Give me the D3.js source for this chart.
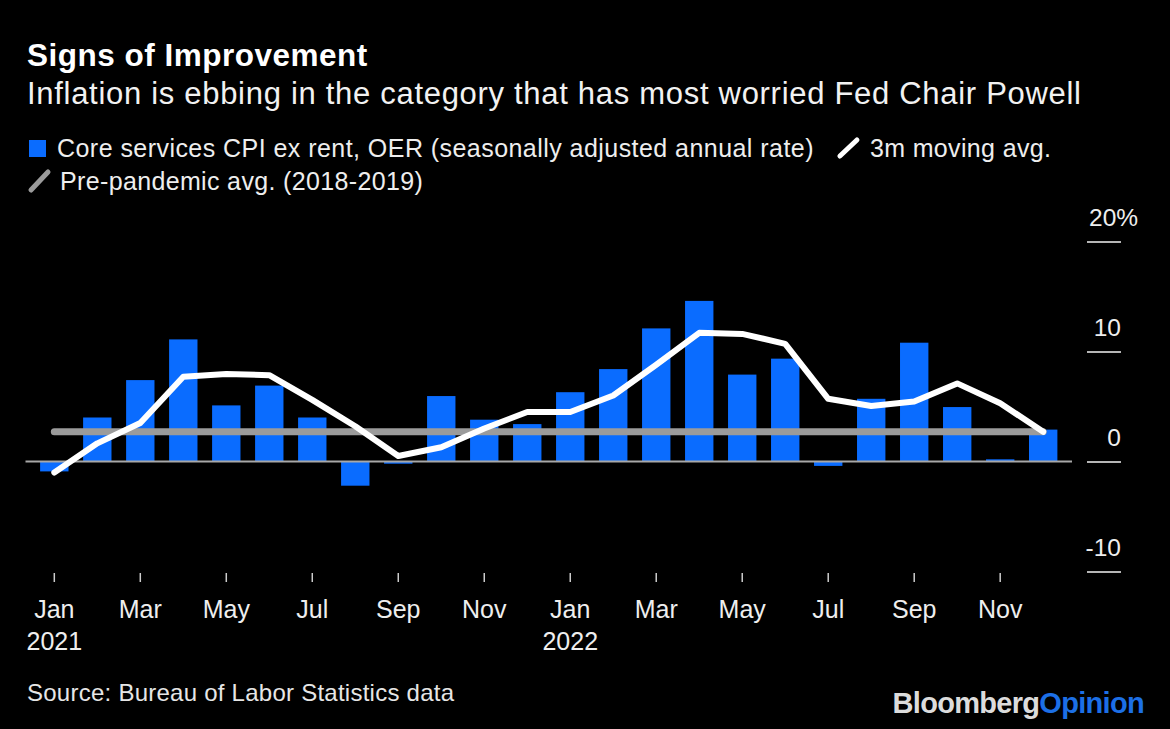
<!DOCTYPE html>
<html>
<head>
<meta charset="utf-8">
<script src="https://cdn.jsdelivr.net/npm/d3@7"></script>
<style>
  html, body { margin: 0; padding: 0; background: #000; }
  svg { display: block; }
  text { font-family: "Liberation Sans", Arial, Helvetica, sans-serif; }
</style>
</head>
<body>
<svg id="chart" width="1170" height="729"></svg>
<script>
// ---- data ----
const months = ["Jan 2021","Feb 2021","Mar 2021","Apr 2021","May 2021","Jun 2021",
                "Jul 2021","Aug 2021","Sep 2021","Oct 2021","Nov 2021","Dec 2021",
                "Jan 2022","Feb 2022","Mar 2022","Apr 2022","May 2022","Jun 2022",
                "Jul 2022","Aug 2022","Sep 2022","Oct 2022","Nov 2022","Dec 2022"];
const coreServices = [-0.9, 4.0, 7.4, 11.1, 5.1, 6.9, 4.0, -2.2, -0.2, 5.95, 3.8, 3.4,
                      6.3, 8.4, 12.1, 14.6, 7.9, 9.35, -0.4, 5.7, 10.8, 4.95, 0.2, 2.9];
const movingAvg = [-1.0, 1.65, 3.5, 7.7, 7.95, 7.85, 5.6, 3.2, 0.5, 1.3, 3.0, 4.5,
                   4.5, 6.0, 8.8, 11.7, 11.6, 10.7, 5.7, 5.05, 5.45, 7.1, 5.3, 2.7];
const prePandemicAvg = 2.7;
const tickMonths = ["Jan 2021","Mar 2021","May 2021","Jul 2021","Sep 2021","Nov 2021",
                    "Jan 2022","Mar 2022","May 2022","Jul 2022","Sep 2022","Nov 2022"];
const tickLabels = ["Jan","Mar","May","Jul","Sep","Nov","Jan","Mar","May","Jul","Sep","Nov"];
const yearMonths = ["Jan 2021","Jan 2022"];
const yearLabels = ["2021","2022"];
const yTicks = [-10, 0, 10, 20];
const yTickLabels = ["-10", "0", "10", "20%"];

const title = "Signs of Improvement";
const subtitle = "Inflation is ebbing in the category that has most worried Fed Chair Powell";
const legendBar = "Core services CPI ex rent, OER (seasonally adjusted annual rate)";
const legendMA = "3m moving avg.";
const legendPre = "Pre-pandemic avg. (2018-2019)";
const source = "Source: Bureau of Labor Statistics data";

// ---- style ----
const BLUE = "#0a6cff";
const GRAY = "#9b9b9b";

const svg = d3.select("#chart");
svg.append("rect").attr("width", 1170).attr("height", 729).attr("fill", "#000");

const x = d3.scaleBand().domain(months).range([25.5, 1072]).padding(0.34);
const y = d3.scaleLinear().domain([-10, 20]).range([571.5, 241.5]);
const cx = m => x(m) + x.bandwidth() / 2;

// ---- header ----
svg.append("text").attr("x", 27).attr("y", 66)
  .attr("fill", "#fff").attr("font-size", 31.5).attr("font-weight", "bold")
  .attr("letter-spacing", 0.5).text(title);
svg.append("text").attr("x", 27).attr("y", 104)
  .attr("fill", "#f2f2f2").attr("font-size", 31)
  .attr("letter-spacing", 0.7).text(subtitle);

// ---- legend ----
svg.append("rect").attr("x", 29).attr("y", 140).attr("width", 17).attr("height", 17).attr("fill", BLUE);
const lt1 = svg.append("text").attr("x", 57).attr("y", 157)
  .attr("fill", "#eee").attr("font-size", 25).attr("letter-spacing", 0.45).text(legendBar);
const end1 = 57 + lt1.node().getComputedTextLength();
const sx = end1 + 26;
svg.append("line").attr("x1", sx).attr("y1", 156).attr("x2", sx + 17).attr("y2", 140)
  .attr("stroke", "#fff").attr("stroke-width", 5).attr("stroke-linecap", "round");
svg.append("text").attr("x", sx + 30).attr("y", 157)
  .attr("fill", "#eee").attr("font-size", 25).attr("letter-spacing", 0.35).text(legendMA);

svg.append("line").attr("x1", 31).attr("y1", 190).attr("x2", 48).attr("y2", 172)
  .attr("stroke", GRAY).attr("stroke-width", 5).attr("stroke-linecap", "round");
svg.append("text").attr("x", 60).attr("y", 190)
  .attr("fill", "#eee").attr("font-size", 25).attr("letter-spacing", 0.35).text(legendPre);

// ---- y axis (right) ----
const yAxis = svg.append("g").attr("transform", "translate(1087,0)")
  .call(d3.axisRight(y).tickValues(yTicks).tickSize(34)
        .tickFormat((d, i) => yTickLabels[i]));
yAxis.select(".domain").remove();
yAxis.selectAll(".tick line").attr("stroke", "#b5b5b5").attr("stroke-width", 2);
yAxis.selectAll(".tick text")
  .attr("x", d => d === 20 ? 2 : 34).attr("y", -16).attr("dy", 0)
  .attr("text-anchor", d => d === 20 ? "start" : "end").attr("fill", "#eee")
  .attr("font-size", 24.5).attr("font-family", null);

// ---- bars ----
svg.append("g").selectAll("rect").data(months).join("rect")
  .attr("x", d => x(d))
  .attr("width", x.bandwidth())
  .attr("y", (d, i) => y(Math.max(0, coreServices[i])))
  .attr("height", (d, i) => Math.abs(y(coreServices[i]) - y(0)))
  .attr("fill", BLUE);

// ---- zero line ----
svg.append("line").attr("x1", x.range()[0]).attr("x2", x.range()[1])
  .attr("y1", y(0)).attr("y2", y(0))
  .attr("stroke", "#a8a8a8").attr("stroke-width", 2);

// ---- pre-pandemic average ----
svg.append("line")
  .attr("x1", cx(months[0])).attr("x2", cx(months[months.length - 1]))
  .attr("y1", y(prePandemicAvg)).attr("y2", y(prePandemicAvg))
  .attr("stroke", GRAY).attr("stroke-width", 7).attr("stroke-linecap", "round");

// ---- moving average ----
const line = d3.line().x((d, i) => cx(months[i])).y(d => y(d));
svg.append("path").datum(movingAvg).attr("d", line)
  .attr("fill", "none").attr("stroke", "#fff").attr("stroke-width", 6)
  .attr("stroke-linejoin", "round").attr("stroke-linecap", "round");

// ---- x axis ----
const xAxis = svg.append("g").attr("transform", "translate(0,573)")
  .call(d3.axisBottom(x).tickValues(tickMonths).tickSize(9)
        .tickFormat((d, i) => tickLabels[i]));
xAxis.select(".domain").remove();
xAxis.selectAll(".tick line").attr("stroke", "#ccc").attr("stroke-width", 1.5);
xAxis.selectAll(".tick text")
  .attr("y", 45).attr("dy", 0).attr("fill", "#eee")
  .attr("font-size", 25).attr("font-family", null);
svg.append("g").selectAll("text").data(yearMonths).join("text")
  .attr("x", d => cx(d)).attr("y", 650).attr("text-anchor", "middle")
  .attr("fill", "#eee").attr("font-size", 25)
  .text((d, i) => yearLabels[i]);

// ---- footer ----
svg.append("text").attr("x", 27).attr("y", 701)
  .attr("fill", "#e6e6e6").attr("font-size", 24).attr("letter-spacing", 0.25).text(source);
const logo = svg.append("text").attr("x", 1144).attr("y", 713).attr("text-anchor", "end")
  .attr("font-size", 29).attr("font-weight", "bold").attr("letter-spacing", -0.7);
logo.append("tspan").attr("fill", "#dcdcdc").text("Bloomberg");
logo.append("tspan").attr("fill", "#1c6fe6").text("Opinion");
</script>
</body>
</html>
